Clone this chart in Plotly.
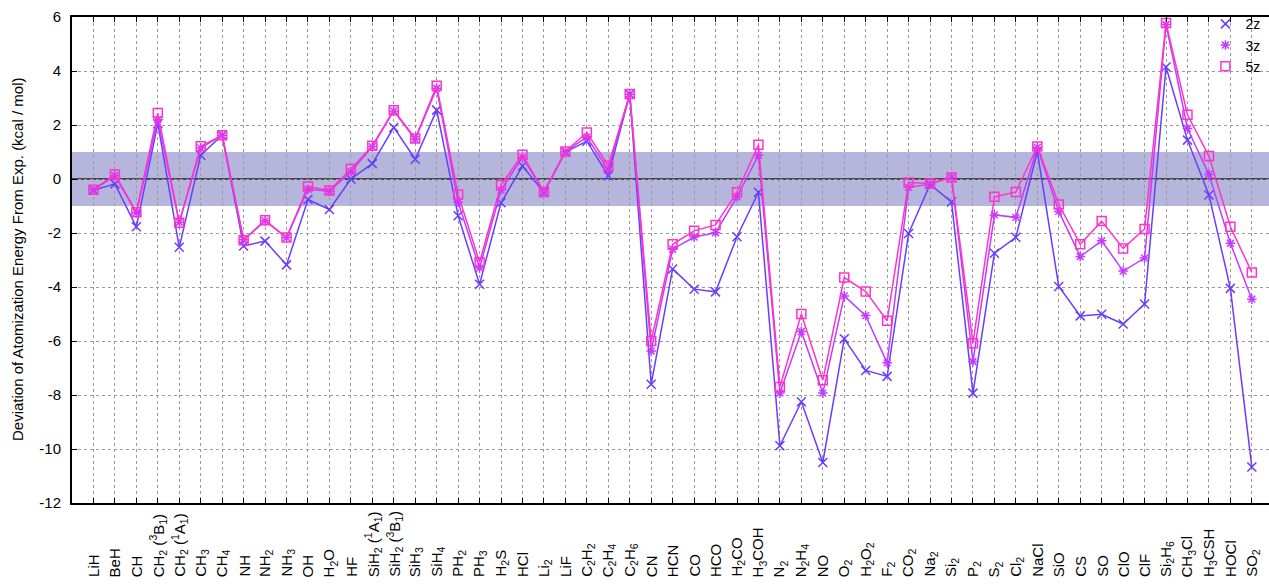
import plotly.graph_objects as go

molecules = [
    "LiH", "BeH", "CH", "CH<sub>2</sub> (<sup>3</sup>B<sub>1</sub>)", "CH<sub>2</sub> (<sup>1</sup>A<sub>1</sub>)",
    "CH<sub>3</sub>", "CH<sub>4</sub>", "NH", "NH<sub>2</sub>", "NH<sub>3</sub>", "OH", "H<sub>2</sub>O", "HF",
    "SiH<sub>2</sub> (<sup>1</sup>A<sub>1</sub>)", "SiH<sub>2</sub> (<sup>3</sup>B<sub>1</sub>)", "SiH<sub>3</sub>",
    "SiH<sub>4</sub>", "PH<sub>2</sub>", "PH<sub>3</sub>", "H<sub>2</sub>S", "HCl", "Li<sub>2</sub>", "LiF",
    "C<sub>2</sub>H<sub>2</sub>", "C<sub>2</sub>H<sub>4</sub>", "C<sub>2</sub>H<sub>6</sub>", "CN", "HCN", "CO",
    "HCO", "H<sub>2</sub>CO", "H<sub>3</sub>COH", "N<sub>2</sub>", "N<sub>2</sub>H<sub>4</sub>", "NO",
    "O<sub>2</sub>", "H<sub>2</sub>O<sub>2</sub>", "F<sub>2</sub>", "CO<sub>2</sub>", "Na<sub>2</sub>",
    "Si<sub>2</sub>", "P<sub>2</sub>", "S<sub>2</sub>", "Cl<sub>2</sub>", "NaCl", "SiO", "CS", "SO", "ClO",
    "ClF", "Si<sub>2</sub>H<sub>6</sub>", "CH<sub>3</sub>Cl", "H<sub>3</sub>CSH", "HOCl", "SO<sub>2</sub>",
]

dev_2z = [
    -0.42, -0.18, -1.77, 2.05, -2.53, 0.88, 1.62, -2.48, -2.30, -3.18, -0.76, -1.13, 0.00,
    0.57, 1.91, 0.73, 2.55, -1.36, -3.90, -0.88, 0.48, -0.50, 1.00, 1.40, 0.12, 3.14,
    -7.60, -3.33, -4.08, -4.18, -2.14, -0.49, -9.88, -8.25, -10.50, -5.92, -7.09, -7.31,
    -2.02, -0.20, -0.85, -7.93, -2.75, -2.16, 1.02, -3.98, -5.07, -5.01, -5.37, -4.63,
    4.15, 1.44, -0.59, -4.05, -10.67,
]
dev_3z = [
    -0.40, 0.12, -1.25, 2.20, -1.60, 1.15, 1.62, -2.25, -1.55, -2.17, -0.38, -0.45, 0.27,
    1.20, 2.52, 1.47, 3.36, -0.86, -3.30, -0.41, 0.80, -0.48, 1.02, 1.55, 0.33, 3.14,
    -6.37, -2.60, -2.15, -1.99, -0.66, 0.88, -7.93, -5.65, -7.93, -4.33, -5.06, -6.81,
    -0.31, -0.19, 0.06, -6.76, -1.33, -1.42, 1.17, -1.20, -2.87, -2.29, -3.41, -2.93,
    5.72, 1.87, 0.17, -2.38, -4.45,
]
dev_5z = [
    -0.40, 0.17, -1.23, 2.44, -1.62, 1.21, 1.62, -2.27, -1.53, -2.17, -0.28, -0.43, 0.37,
    1.23, 2.55, 1.50, 3.45, -0.57, -3.08, -0.22, 0.90, -0.48, 1.02, 1.72, 0.49, 3.15,
    -6.00, -2.42, -1.92, -1.70, -0.49, 1.27, -7.70, -5.00, -7.45, -3.65, -4.17, -5.25,
    -0.13, -0.17, 0.06, -6.08, -0.66, -0.48, 1.20, -0.94, -2.42, -1.56, -2.57, -1.85,
    5.78, 2.38, 0.85, -1.77, -3.46,
]

series_names = ["2z", "3z", "5z"]
y_ticks = [-12, -10, -8, -6, -4, -2, 0, 2, 4, 6]

xs = list(range(len(molecules)))
FONT = "Liberation Sans, Arial, sans-serif"

styles = [
    dict(color="#6a3cff", symbol="x-thin-open", size=9),
    dict(color="#c23cff", symbol="asterisk-open", size=8),
    dict(color="#ff33cc", symbol="square-open", size=9),
]

fig = go.Figure()
for name, vals, st in zip(series_names, [dev_2z, dev_3z, dev_5z], styles):
    fig.add_trace(go.Scatter(
        x=xs, y=vals, name=name, mode="lines+markers", showlegend=False,
        line=dict(color=st["color"], width=1.5),
        marker=dict(symbol=st["symbol"], size=st["size"], color=st["color"],
                    line=dict(color=st["color"], width=1.5)),
    ))
# legend entries (symbol only, like the reference key)
for name, st in zip(series_names, styles):
    fig.add_trace(go.Scatter(
        x=[None], y=[None], name=name, mode="markers", showlegend=True,
        marker=dict(symbol=st["symbol"], size=st["size"], color=st["color"],
                    line=dict(color=st["color"], width=1.5)),
    ))

# accuracy band and zero line
fig.add_shape(type="rect", xref="paper", x0=0, x1=1, yref="y", y0=-1, y1=1,
              fillcolor="#b6b6dc", line=dict(width=0), layer="between")
fig.add_shape(type="line", xref="paper", x0=0, x1=1, yref="y", y0=0, y1=0,
              line=dict(color="#222222", width=1.5), layer="between")

# category labels (rotated, bottom aligned)
for i, lab in enumerate(molecules):
    fig.add_annotation(x=i, xref="x", y=0, yref="paper", text=lab, textangle=-90,
                       showarrow=False, xanchor="center", yanchor="bottom", yshift=-76,
                       font=dict(family=FONT, size=15, color="black"))

fig.add_annotation(x=0, xref="paper", xshift=-55, y=0.5, yref="paper",
                   text="Deviation of Atomization Energy From Exp. (kcal / mol)",
                   textangle=-90, showarrow=False, xanchor="center", yanchor="middle",
                   font=dict(family=FONT, size=15, color="black"))

fig.update_layout(
    width=1269, height=584,
    margin=dict(l=72, r=0, t=17, b=81),
    plot_bgcolor="white", paper_bgcolor="white",
    font=dict(family=FONT, size=15, color="black"),
    showlegend=True,
    legend=dict(x=0.997, y=1.018, xanchor="right", yanchor="top", bgcolor="rgba(0,0,0,0)",
                font=dict(family=FONT, size=14), itemwidth=30, tracegroupgap=0),
    xaxis=dict(range=[-1.0, 54.8], tickmode="array", tickvals=xs, ticktext=[""] * len(xs),
               showgrid=True, gridcolor="#9a9a9a", griddash="dot", gridwidth=1,
               zeroline=False, showline=True, linecolor="black", linewidth=2,
               mirror="allticks", ticks="inside", ticklen=5, tickcolor="black"),
    yaxis=dict(range=[-12, 6], tickmode="array", tickvals=y_ticks,
               ticktext=[str(v) for v in y_ticks],
               showgrid=True, gridcolor="#9a9a9a", griddash="dot", gridwidth=1,
               zeroline=False, showline=True, linecolor="black", linewidth=2,
               ticks="inside", ticklen=5, tickcolor="black", ticklabelstandoff=6,
               tickfont=dict(family=FONT, size=15)),
)

fig.write_html("out.html", config={"displayModeBar": False},
               post_script="document.body.style.margin='0px';")
